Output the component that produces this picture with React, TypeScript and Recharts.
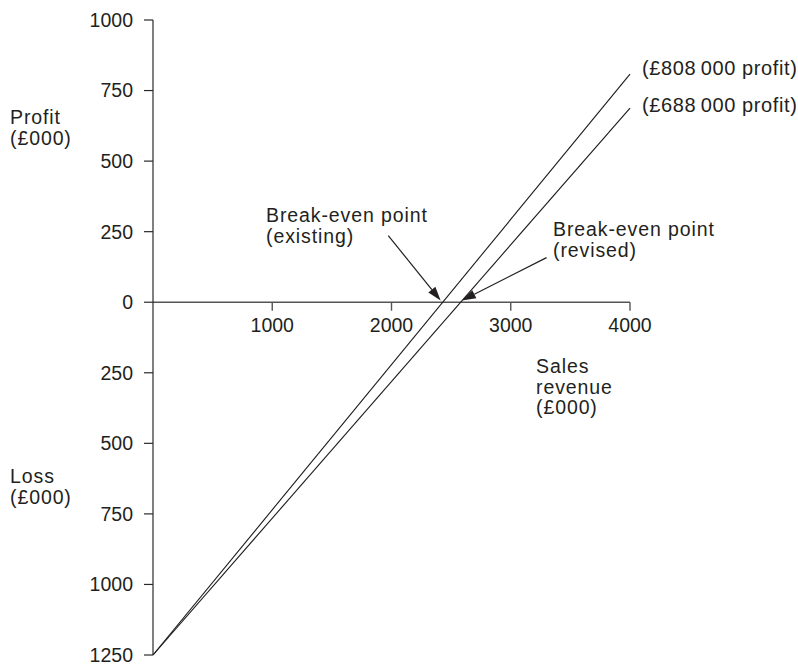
import React from 'react';
import { LineChart, Line, XAxis, YAxis, ReferenceLine } from 'recharts';

// ---- data ----
const salesRevenue = [0, 4000];
const profitExisting = [-1250, 808];
const profitRevised = [-1250, 688];
const yTicks = [-1250, -1000, -750, -500, -250, 0, 250, 500, 750, 1000];
const xTicks = [1000, 2000, 3000, 4000];
const endLabelExisting = '(£808\u2009000 profit)';
const endLabelRevised = '(£688\u2009000 profit)';
// arrow annotations (data coordinates: [sales, profit])
const arrowExistingFrom = [1973, 236];
const arrowExistingTo = [2412, 6];
const arrowRevisedFrom = [3300, 158];
const arrowRevisedTo = [2590, 6];

const data = salesRevenue.map((x, i) => ({
  x,
  existing: profitExisting[i],
  revised: profitRevised[i],
}));

const INK = '#231f20';
const FONT = '"Liberation Sans", Arial, Helvetica, sans-serif';

const ArrowShape = (p: any) => {
  const { x1, y1, x2, y2 } = p;
  const ang = Math.atan2(y2 - y1, x2 - x1);
  const L = 14;
  const W = 4.5;
  const bx = x2 - L * Math.cos(ang);
  const by = y2 - L * Math.sin(ang);
  const px = -Math.sin(ang) * W;
  const py = Math.cos(ang) * W;
  return (
    <g>
      <line x1={x1} y1={y1} x2={bx} y2={by} stroke={INK} strokeWidth={1.2} />
      <polygon
        points={`${x2},${y2} ${bx + px},${by + py} ${bx - px},${by - py}`}
        fill={INK}
      />
    </g>
  );
};

const makeEndLabel = (text: string, dy: number) => (props: any) => {
  const { x, y, index } = props;
  if (index !== 1) return null;
  return (
    <text
      x={x + 12}
      y={y + dy}
      fill={INK}
      fontSize={20}
      letterSpacing={0.6}
      fontFamily={FONT}
    >
      {text}
    </text>
  );
};

const Ann = ({ x, y, lines, gap = 20.5 }: { x: number; y: number; lines: string[]; gap?: number }) => (
  <>
    {lines.map((l, i) => (
      <text key={i} x={x} y={y + i * gap} fill={INK} fontSize={19.5} letterSpacing={0.9} fontFamily={FONT}>
        {l}
      </text>
    ))}
  </>
);

export default function App() {
  return (
    <div
      style={{
        position: 'absolute',
        left: 0,
        top: 0,
        width: 798,
        height: 666,
        background: '#fff',
        fontFamily: FONT,
      }}
    >
      <LineChart
        width={798}
        height={666}
        data={data}
        margin={{ top: 20, right: 168, bottom: 11, left: 0 }}
      >
        <XAxis type="number" dataKey="x" domain={[0, 4000]} hide />
        <YAxis
          type="number"
          domain={[-1250, 1000]}
          ticks={yTicks}
          interval={0}
          width={153}
          tickSize={9}
          tickMargin={11}
          tickFormatter={(v: number) => String(Math.abs(v))}
          axisLine={{ stroke: '#2a2a2a', strokeWidth: 1.2 }}
          tickLine={{ stroke: '#2a2a2a', strokeWidth: 1.2 }}
          tick={{ fill: INK, fontSize: 19.5, fontFamily: FONT }}
        />
        <ReferenceLine y={0} stroke="#555" strokeWidth={1.6} />
        {xTicks.map((t) => (
          <ReferenceLine
            key={t}
            segment={[
              { x: t, y: 0 },
              { x: t, y: -30 },
            ]}
            stroke="#555"
            strokeWidth={1.4}
            label={{
              value: String(t),
              position: 'bottom',
              offset: 7,
              fill: INK,
              fontSize: 19.5,
              fontFamily: FONT,
            }}
          />
        ))}
        <Line
          type="linear"
          dataKey="existing"
          stroke="#1a1a1a"
          strokeWidth={1.1}
          dot={false}
          isAnimationActive={false}
          label={makeEndLabel(endLabelExisting, 1)}
        />
        <Line
          type="linear"
          dataKey="revised"
          stroke="#1a1a1a"
          strokeWidth={1.1}
          dot={false}
          isAnimationActive={false}
          label={makeEndLabel(endLabelRevised, 3.5)}
        />
        <ReferenceLine
          segment={[
            { x: arrowExistingFrom[0], y: arrowExistingFrom[1] },
            { x: arrowExistingTo[0], y: arrowExistingTo[1] },
          ]}
          shape={ArrowShape}
        />
        <ReferenceLine
          segment={[
            { x: arrowRevisedFrom[0], y: arrowRevisedFrom[1] },
            { x: arrowRevisedTo[0], y: arrowRevisedTo[1] },
          ]}
          shape={ArrowShape}
        />
      </LineChart>
      <svg
        width={798}
        height={666}
        style={{ position: 'absolute', left: 0, top: 0, pointerEvents: 'none' }}
      >
        <Ann x={10} y={124} lines={['Profit', '(£000)']} />
        <Ann x={10} y={483} lines={['Loss', '(£000)']} />
        <Ann x={266} y={222} lines={['Break-even point', '(existing)']} />
        <Ann x={553} y={236} lines={['Break-even point', '(revised)']} />
        <Ann x={536} y={373} lines={['Sales', 'revenue', '(£000)']} />
      </svg>
    </div>
  );
}
